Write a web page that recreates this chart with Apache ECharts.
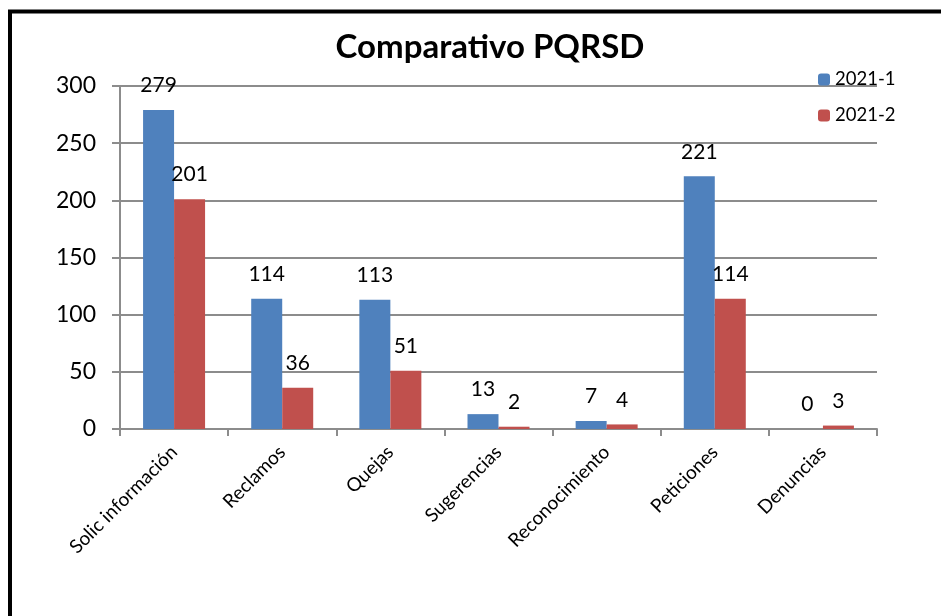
<!DOCTYPE html>
<html><head><meta charset="utf-8">
<script src="https://cdn.jsdelivr.net/npm/echarts@6/dist/echarts.min.js"></script>
<style>html,body{margin:0;padding:0;background:#fff}#c{width:941px;height:616px}</style>
</head><body><div id="c"></div>
<script>
const categories = ['Solic información','Reclamos','Quejas','Sugerencias','Reconocimiento','Peticiones','Denuncias'];
const s2021_1 = [279,114,113,13,7,221,0];
const s2021_2 = [201,36,51,2,4,114,3];
const seriesNames = ['2021-1','2021-2'];
const yTicks = [0,50,100,150,200,250,300];

const font = 'Lato, "Open Sans", sans-serif';
const chart = echarts.init(document.getElementById('c'));
const lbl = {show:true, position:'top', distance:14, fontSize:21, color:'#000', fontFamily:font};
chart.setOption({
  animation:false,
  title:{text:'Comparativo PQRSD', left:485, top:26, textAlign:'center',
    textStyle:{fontSize:33, fontWeight:'bold', color:'#000', fontFamily:font}},
  legend:{orient:'vertical', left:813, top:65, itemWidth:12, itemHeight:12, itemGap:17,
    textStyle:{fontSize:18.5, color:'#000', fontFamily:font}, data:seriesNames},
  grid:{left:120, right:64, top:86, bottom:187},
  xAxis:{type:'category', data:categories,
    axisLine:{lineStyle:{color:'#8c8c8c', width:2}},
    axisTick:{show:true, length:7, lineStyle:{color:'#8c8c8c', width:2}},
    axisLabel:{rotate:45, fontSize:19, color:'#000', fontFamily:font, margin:20, interval:0}},
  yAxis:{type:'value', min:0, max:300, interval:50,
    axisLine:{show:true, lineStyle:{color:'#8c8c8c', width:2}},
    axisTick:{show:true, length:8, lineStyle:{color:'#8c8c8c', width:2}},
    splitLine:{lineStyle:{color:'#8c8c8c', width:2}},
    axisLabel:{fontSize:23, color:'#000', fontFamily:font, margin:24,
      formatter:v=>yTicks.includes(v)?String(v):''}},
  series:[
    {name:seriesNames[0], type:'bar', data:s2021_1, barWidth:31, barGap:'0%', itemStyle:{color:'#4F81BD'}, label:lbl},
    {name:seriesNames[1], type:'bar', data:s2021_2, barWidth:31, barGap:'0%', itemStyle:{color:'#C0504D'}, label:lbl}
  ],
  graphic:[
    {type:'line', shape:{x1:8, y1:11.5, x2:941, y2:11.5}, style:{stroke:'#000', lineWidth:4}},
    {type:'line', shape:{x1:10, y1:10, x2:10, y2:616}, style:{stroke:'#000', lineWidth:4}}
  ]
});
</script></body></html>
